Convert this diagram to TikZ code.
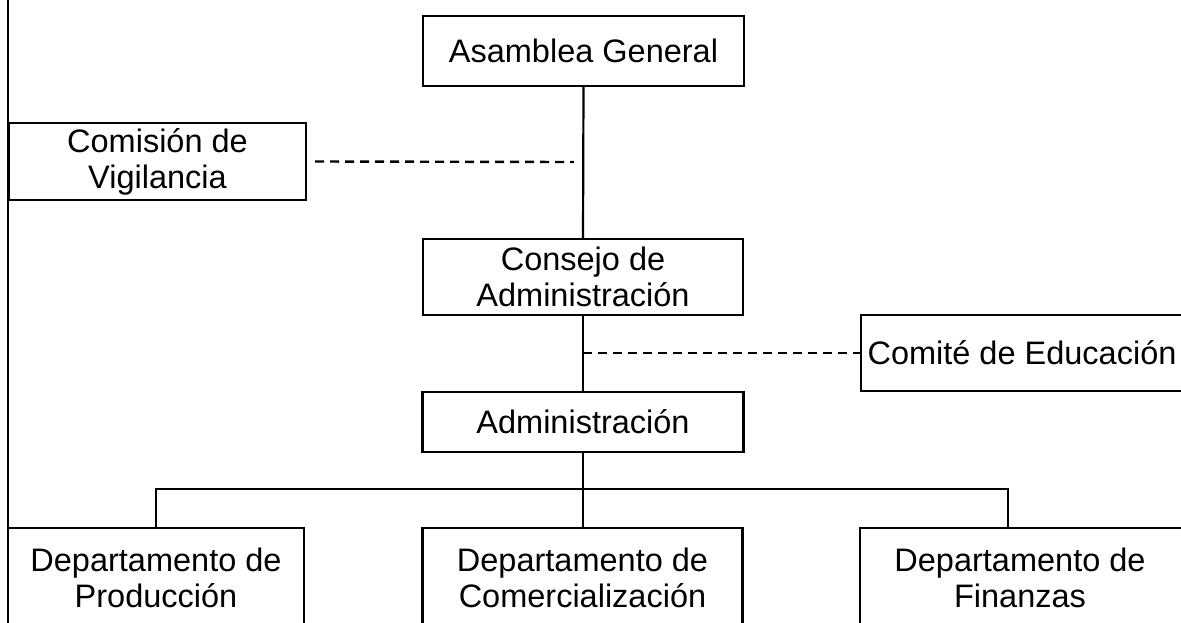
\documentclass[tikz,border=0pt]{standalone}
\usepackage{fontspec}
\setmainfont{Liberation Sans}
\begin{document}
\begin{tikzpicture}[x=1pt,y=-1pt,
  box/.style={draw, line width=2.2pt, inner sep=0pt, outer sep=0pt, align=center,
    font=\fontsize{32.5}{36}\selectfont},
  link/.style={line width=2.2pt},
  dlink/.style={line width=2.4pt, dash pattern=on 9pt off 6pt}]
\useasboundingbox (0,0) rectangle (1181,622);
\clip (0,0) rectangle (1181,622);
\fill[white] (0,0) rectangle (1181,622);
% left frame line
\coordinate (ftop) at (8,-5);
\coordinate (fbot) at (8,630);
\draw[link] (ftop) -- (fbot);
% boxes
\node[box, minimum width=321pt, minimum height=70pt] (asam) at (583.5,51) {Asamblea General};
\node[box, minimum width=297pt, minimum height=77pt] (comi) at (157.5,161.5) {Comisión de\\Vigilancia};
\node[box, minimum width=320pt, minimum height=76pt] (cons) at (583,277) {Consejo de\\Administración};
\node[box, minimum height=76pt, anchor=west] (educ) at (861,353)
  {\makebox[345pt][l]{\makebox[322pt]{Comité de Educación}}};
\node[box, minimum width=321pt, minimum height=60pt] (admi) at (583,422) {Administración};
\node[box, minimum width=296pt, minimum height=100pt, anchor=north] (prod) at (156,528) {Departamento de\\Producción};
\node[box, minimum width=320pt, minimum height=100pt, anchor=north] (come) at (582.5,528) {Departamento de\\Comercialización};
\node[box, minimum height=100pt, anchor=north west] (fina) at (860,528)
  {\makebox[345pt][l]{\parbox{320pt}{\centering Departamento de\\Finanzas}}};
% connectors
\draw[link] (asam.south) -- (cons.north);
\draw[link] (cons.south) -- (admi.north);
\coordinate (d1) at (574,162);
\draw[dlink] ([xshift=9pt]comi.east) -- (d1);
\coordinate (d2) at (583,353);
\draw[dlink] (d2) -- (educ.west);
\coordinate (bus) at (583,489);
\coordinate (fdrop) at (1008,528);
\draw[link] (admi.south) -- (bus);
\draw[link] (prod.north) |- (bus) -| (fdrop);
\draw[link] (bus) -- (bus |- come.north);
\end{tikzpicture}
\end{document}
